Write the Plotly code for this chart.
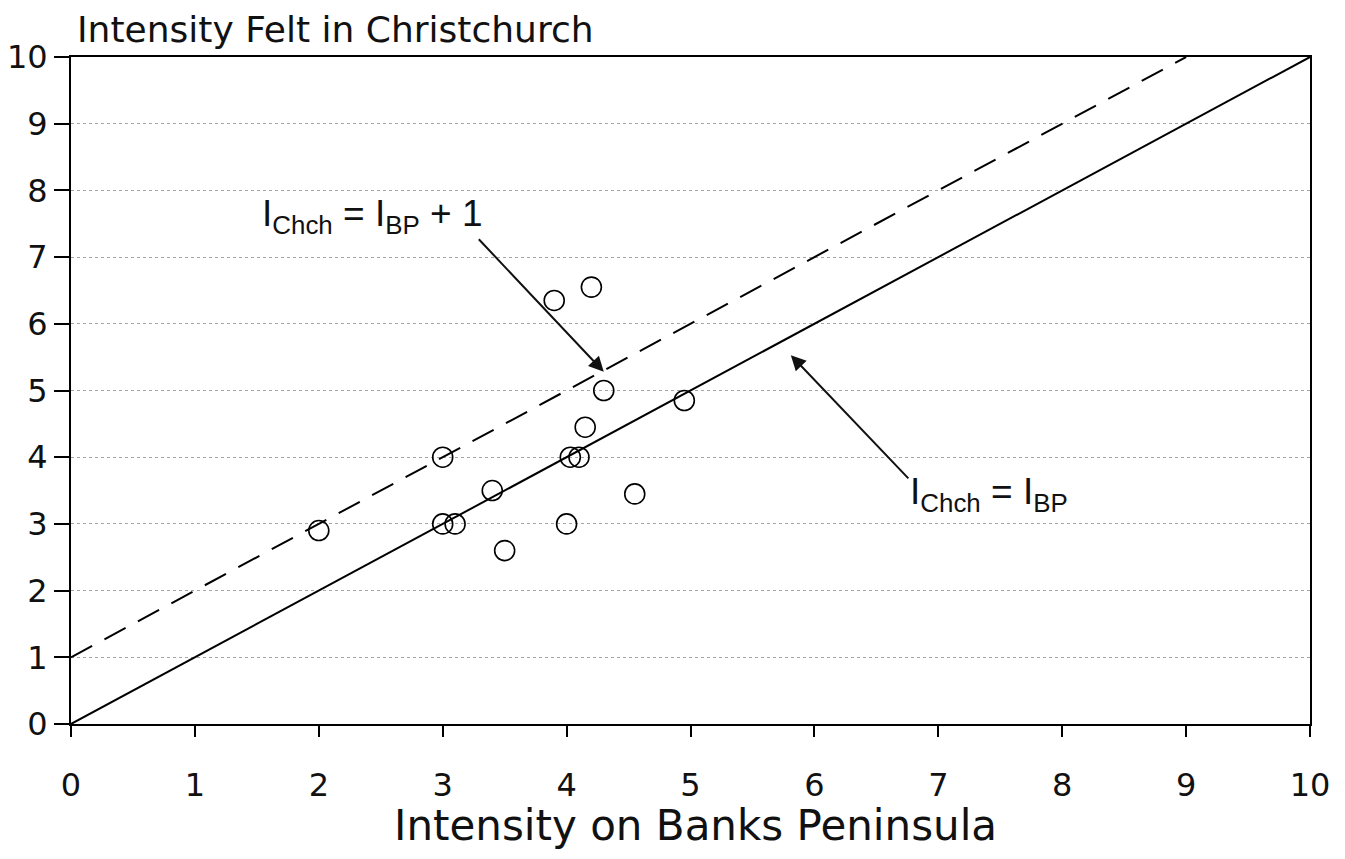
import plotly.graph_objects as go

# Data
bp_intensity = [2.0, 3.0, 3.1, 3.0, 3.4, 3.5, 3.9, 4.2, 4.0, 4.03, 4.1, 4.15, 4.3, 4.55, 4.95]
chch_intensity = [2.9, 3.0, 3.0, 4.0, 3.5, 2.6, 6.35, 6.55, 3.0, 4.0, 4.0, 4.45, 5.0, 3.45, 4.85]

equal_line_x = [0, 10]
equal_line_y = [0, 10]
plus_one_line_x = [0, 9]
plus_one_line_y = [1, 10]

tick_vals = [0, 1, 2, 3, 4, 5, 6, 7, 8, 9, 10]
tick_text = ["0", "1", "2", "3", "4", "5", "6", "7", "8", "9", "10"]

title_y = "Intensity Felt in Christchurch"
title_x = "Intensity on Banks Peninsula"
label_plus_one = "I<sub>Chch</sub> = I<sub>BP</sub> + 1"
label_equal = "I<sub>Chch</sub> = I<sub>BP</sub>"

fig = go.Figure()

fig.add_trace(go.Scatter(
    x=equal_line_x, y=equal_line_y, mode="lines",
    line=dict(color="black", width=2), hoverinfo="skip", showlegend=False))
fig.add_trace(go.Scatter(
    x=plus_one_line_x, y=plus_one_line_y, mode="lines",
    line=dict(color="black", width=2, dash="24px,14px"), hoverinfo="skip", showlegend=False))
fig.add_trace(go.Scatter(
    x=bp_intensity, y=chch_intensity, mode="markers",
    marker=dict(symbol="circle-open", size=20, color="black", line=dict(width=1.6, color="black")),
    showlegend=False))

tick_font = dict(family="DejaVu Sans", size=32, color="#111")

fig.update_xaxes(
    range=[0, 10], tickvals=tick_vals, ticktext=tick_text,
    showgrid=False, zeroline=False, automargin=False,
    showline=True, linecolor="black", linewidth=2, mirror=True,
    ticks="outside", ticklen=11, tickwidth=2, tickcolor="black",
    tickfont=tick_font, ticklabelstandoff=21)
fig.update_yaxes(
    range=[0, 10], tickvals=tick_vals, ticktext=tick_text,
    showgrid=True, gridcolor="rgba(0,0,0,0.35)", gridwidth=1, griddash="dot",
    zeroline=False, automargin=False,
    showline=True, linecolor="black", linewidth=2, mirror=True,
    ticks="outside", ticklen=15, tickwidth=2, tickcolor="black",
    tickfont=tick_font, ticklabelstandoff=0)

label_font = dict(family="Liberation Sans, Arial", size=37, color="#111")

annotations = [
    dict(text=title_y, xref="paper", yref="paper", x=0.003, y=1.0, yshift=5,
         xanchor="left", yanchor="bottom", showarrow=False,
         font=dict(family="DejaVu Sans", size=36, color="#111")),
    dict(text=title_x, xref="paper", yref="paper", x=0.504, y=0, yshift=-75,
         xanchor="center", yanchor="top", showarrow=False,
         font=dict(family="DejaVu Sans", size=42, color="#111")),
    dict(text=label_plus_one, x=2.43, y=7.62, xref="x", yref="y",
         showarrow=False, font=label_font),
    dict(text=label_equal, x=7.41, y=3.45, xref="x", yref="y",
         showarrow=False, font=label_font),
    dict(text="", x=4.30, y=5.28, ax=3.28, ay=7.29, xref="x", yref="y", axref="x", ayref="y",
         showarrow=True, arrowhead=2, arrowsize=1.5, arrowwidth=2, arrowcolor="#111"),
    dict(text="", x=5.81, y=5.53, ax=6.77, ay=3.66, xref="x", yref="y", axref="x", ayref="y",
         showarrow=True, arrowhead=2, arrowsize=1.5, arrowwidth=2, arrowcolor="#111"),
]

# The page adds an 8px body margin, so the figure is sized to fit the window.
fig.update_layout(
    width=1329, height=843,
    margin=dict(l=63, r=27, t=49, b=127),
    paper_bgcolor="white", plot_bgcolor="white",
    annotations=annotations,
)

fig.write_html("out.html")
